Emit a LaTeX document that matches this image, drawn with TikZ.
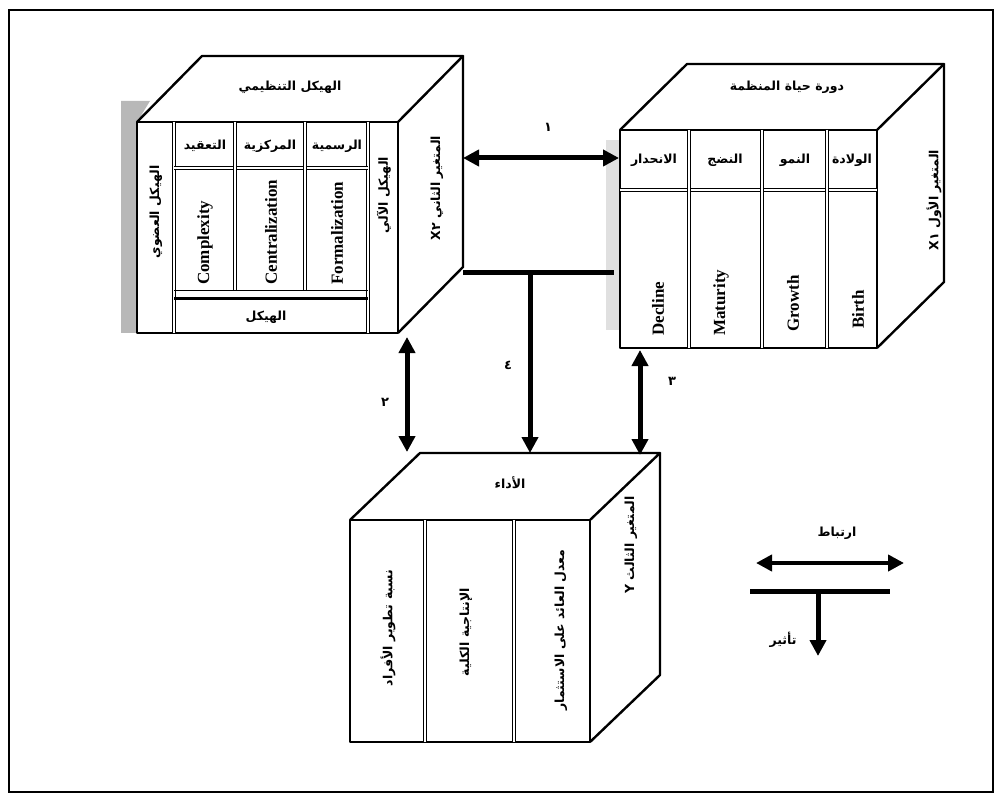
\documentclass[tikz,border=0pt]{standalone}
\usepackage{fontspec}
\setmainfont{Liberation Serif}
\newfontfamily\ar[Script=Arabic]{DejaVu Sans}
\TeXXeTstate=1
\usetikzlibrary{arrows.meta}
\begin{document}
\begin{tikzpicture}[x=1pt,y=-1pt,
  cube/.style={line width=2.4pt,line join=round},
  dbl/.style={double,double distance=1.6pt,line width=1pt},
  arx/.style={font=\ar\bfseries\fontsize{12.5}{14}\selectfont,inner sep=0pt},
  arrot/.style={arx,rotate=90},
  en/.style={font=\bfseries\fontsize{17}{19}\selectfont,rotate=90,anchor=west,inner sep=0pt},
  big/.style={line width=5pt},
  tip/.style={-{Triangle[length=16pt,width=16pt]}},
  tips/.style={{Triangle[length=16pt,width=16pt]}-{Triangle[length=16pt,width=16pt]}},
  num/.style={font=\ar\bfseries\fontsize{13}{14}\selectfont,inner sep=0pt}]
\useasboundingbox (0,0) rectangle (1001,802);
\draw[line width=2.5pt] (9,10) rectangle (993,792);

% ---------- shadows ----------
\fill[black!28] (121,101) rectangle (137,333);
\fill[black!28] (121,101) -- (150,101) -- (137,122) -- cycle;
\fill[black!12] (606,140) rectangle (619,330);

% ---------- left cube ----------
\coordinate (La) at (137,122); \coordinate (Lb) at (398,122);
\coordinate (Lc) at (398,333); \coordinate (Ld) at (137,333);
\coordinate (Le) at (202,56); \coordinate (Lf) at (463,56); \coordinate (Lg) at (463,267);
\fill[white] (La) -- (Le) -- (Lf) -- (Lg) -- (Lc) -- (Ld) -- cycle;
\draw[cube] (La) -- (Lb) -- (Lc) -- (Ld) -- cycle;
\draw[cube] (La) -- (Le) -- (Lf) -- (Lb);
\draw[cube] (Lf) -- (Lg) -- (Lc);
\draw[dbl] (174,122) -- (174,333);
\draw[dbl] (368,122) -- (368,333);
\draw[dbl] (174,168) -- (368,168);
\draw[dbl] (235,122) -- (235,291);
\draw[dbl] (305,122) -- (305,291);
\draw[line width=1pt] (174,291) -- (368,291);
\draw[line width=3pt] (174,299) -- (368,299);
\node[arx] (Ltop) at (290,87) {\beginR الهيكل التنظيمي\endR};
\node[arx] (Lh1) at (205,146) {\beginR التعقيد\endR};
\node[arx] (Lh2) at (270,146) {\beginR المركزية\endR};
\node[arx] (Lh3) at (337,146) {\beginR الرسمية\endR};
\node[en] (Le1) at (205,285) {Complexity};
\node[en] (Le2) at (271,285) {Centralization};
\node[en] (Le3) at (337,285) {Formalization};
\node[arx] (Lbot) at (266,317) {\beginR الهيكل\endR};
\node[arrot] (Lleft) at (156,212) {\beginR الهيكل العضوي\endR};
\node[arrot] (Lright) at (384,195) {\beginR الهيكل الآلي\endR};
\node[arrot] (Lside) at (437,188) {\beginR المتغير الثاني \beginL X٢\endL\endR};

% ---------- right cube ----------
\coordinate (Ra) at (620,130); \coordinate (Rb) at (877,130);
\coordinate (Rc) at (877,348); \coordinate (Rd) at (620,348);
\coordinate (Re) at (687,64); \coordinate (Rf) at (944,64); \coordinate (Rg) at (944,282);
\fill[white] (Ra) -- (Re) -- (Rf) -- (Rg) -- (Rc) -- (Rd) -- cycle;
\draw[cube] (Ra) -- (Rb) -- (Rc) -- (Rd) -- cycle;
\draw[cube] (Ra) -- (Re) -- (Rf) -- (Rb);
\draw[cube] (Rf) -- (Rg) -- (Rc);
\draw[dbl] (620,190) -- (877,190);
\draw[dbl] (689,130) -- (689,348);
\draw[dbl] (762,130) -- (762,348);
\draw[dbl] (827,130) -- (827,348);
\node[arx] (Rtop) at (787,87) {\beginR دورة حياة المنظمة\endR};
\node[arx] (Rh1) at (654,160) {\beginR الانحدار\endR};
\node[arx] (Rh2) at (725,160) {\beginR النضج\endR};
\node[arx] (Rh3) at (795,160) {\beginR النمو\endR};
\node[arx] (Rh4) at (852,160) {\beginR الولادة\endR};
\node[en] (Re1) at (658,336) {Decline};
\node[en] (Re2) at (721,336) {Maturity};
\node[en] (Re3) at (793,332) {Growth};
\node[en] (Re4) at (858,329) {Birth};
\node[arrot] (Rside) at (934,200) {\beginR المتغير الأول \beginL X١\endL\endR};

% ---------- bottom cube ----------
\coordinate (Ba) at (350,520); \coordinate (Bb) at (590,520);
\coordinate (Bc) at (590,742); \coordinate (Bd) at (350,742);
\coordinate (Be) at (420,453); \coordinate (Bf) at (660,453); \coordinate (Bg) at (660,675);
\fill[white] (Ba) -- (Be) -- (Bf) -- (Bg) -- (Bc) -- (Bd) -- cycle;
\draw[cube] (Ba) -- (Bb) -- (Bc) -- (Bd) -- cycle;
\draw[cube] (Ba) -- (Be) -- (Bf) -- (Bb);
\draw[cube] (Bf) -- (Bg) -- (Bc);
\draw[dbl] (425,520) -- (425,742);
\draw[dbl] (514,520) -- (514,742);
\node[arx] (Btop) at (510,483) {\beginR الأداء\endR};
\node[arrot] (Bc1) at (388,628) {\beginR نسبة تطوير الأفراد\endR};
\node[arrot] (Bc2) at (466,632) {\beginR الإنتاجية الكلية\endR};
\node[arrot] (Bc3) at (561,630) {\beginR معدل العائد على الاستثمار\endR};
\node[arrot] (Bside) at (631,545) {\beginR المتغير الثالث \beginL Y\endL\endR};

% ---------- connectors ----------
\coordinate (A1s) at (463,158); \coordinate (A1e) at (619,158);
\draw[big,tips] (A1s) -- (A1e);
\node[num] (n1) at (548,127) {١};

\coordinate (Ts) at (463,273); \coordinate (Te) at (614,273);
\coordinate (Tm) at (530,273); \coordinate (Tb) at (530,453);
\draw[big] (Ts) -- (Te);
\draw[big,tip] (Tm) -- (Tb);
\node[num] (n4) at (508,365) {٤};

\coordinate (A2s) at (407,337); \coordinate (A2e) at (407,452);
\draw[big,tips] (A2s) -- (A2e);
\node[num] (n2) at (385,402) {٢};

\coordinate (A3s) at (640,350); \coordinate (A3e) at (640,455);
\draw[big,tips] (A3s) -- (A3e);
\node[num] (n3) at (672,381) {٣};

% ---------- legend ----------
\node[arx] (Lg1) at (837,533) {\beginR ارتباط\endR};
\coordinate (G1s) at (756,563); \coordinate (G1e) at (904,563);
\draw[line width=4pt,tips] (G1s) -- (G1e);
\coordinate (G2s) at (750,591); \coordinate (G2e) at (890,591);
\coordinate (G2m) at (818,591); \coordinate (G2b) at (818,656);
\draw[big] (G2s) -- (G2e);
\draw[big,tip] (G2m) -- (G2b);
\node[arx] (Lg2) at (783,640) {\beginR تأثير\endR};
\end{tikzpicture}
\end{document}
